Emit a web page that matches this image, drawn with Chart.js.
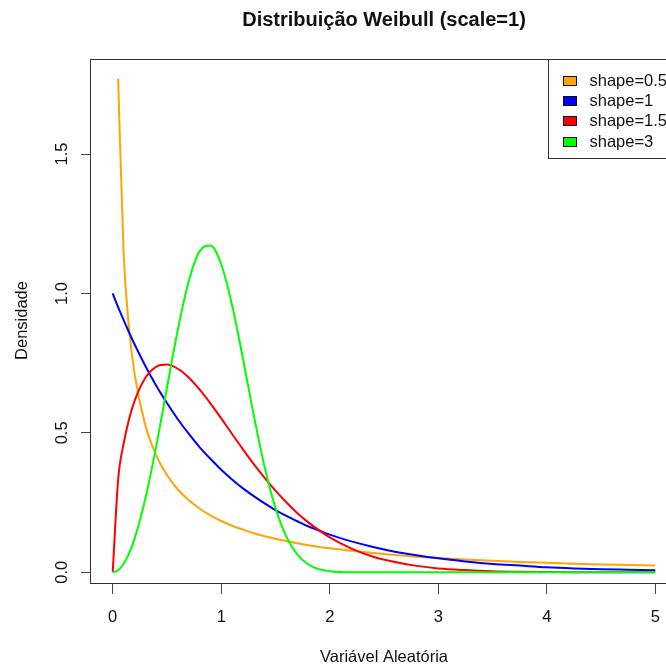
<!DOCTYPE html>
<html>
<head>
<meta charset="utf-8">
<script src="https://cdn.jsdelivr.net/npm/chart.js@4.4.1/dist/chart.umd.min.js"></script>
<style>
html,body{margin:0;padding:0;background:#fff;overflow:hidden;width:666px;height:668px}
#wrap{width:666px;height:668px;overflow:hidden;position:relative}
canvas{display:block}
</style>
</head>
<body>
<div id="wrap"><canvas id="c" width="700" height="668"></canvas></div>
<script>
// ---- text ----
const titleText = 'Distribuição Weibull (scale=1)';
const xAxisTitle = 'Variável Aleatória';
const yAxisTitle = 'Densidade';

// ---- ticks ----
const xTicks = [0, 1, 2, 3, 4, 5];
const yTicks = [0, 0.5, 1.0, 1.5];
const yTickLabels = ['0.0', '0.5', '1.0', '1.5'];

// ---- series ----
const seriesLabels = ['shape=0.5', 'shape=1', 'shape=1.5', 'shape=3'];
const seriesColors = ['#FFA500', '#0000FF', '#FF0000', '#00FF00'];

const xValues = [0, 0.05, 0.1, 0.15, 0.2, 0.3, 0.4, 0.5, 0.6, 0.7, 0.8, 0.9, 1.0, 1.1, 1.2, 1.3, 1.4, 1.5, 1.6, 1.7, 1.8, 1.9, 2.0, 2.2, 2.4, 2.6, 2.8, 3.0, 3.25, 3.5, 3.75, 4.0, 4.25, 4.5, 4.75, 5.0];

const shape05 = [null, 1.77, 1.15, 0.877, 0.715, 0.528, 0.42, 0.349, 0.297, 0.259, 0.229, 0.204, 0.184, 0.167, 0.153, 0.14, 0.129, 0.12, 0.112, 0.104, 0.097, 0.091, 0.086, 0.077, 0.069, 0.062, 0.056, 0.051, 0.046, 0.041, 0.037, 0.034, 0.031, 0.028, 0.026, 0.024];
const shape1 = [1.0, 0.951, 0.905, 0.861, 0.819, 0.741, 0.670, 0.607, 0.549, 0.497, 0.449, 0.407, 0.368, 0.333, 0.301, 0.273, 0.247, 0.223, 0.202, 0.183, 0.165, 0.150, 0.135, 0.111, 0.091, 0.074, 0.061, 0.050, 0.039, 0.030, 0.024, 0.018, 0.014, 0.011, 0.009, 0.007];
const shape15 = [0, 0.332, 0.46, 0.548, 0.613, 0.697, 0.737, 0.745, 0.73, 0.699, 0.656, 0.606, 0.552, 0.496, 0.441, 0.388, 0.339, 0.293, 0.251, 0.213, 0.18, 0.151, 0.125, 0.085, 0.056, 0.037, 0.023, 0.014, 0.008, 0.004, 0.002, 0.001, 0.0005, 0.0002, 0.0001, 0.0];
const shape3 = [0, 0.0075, 0.03, 0.067, 0.119, 0.263, 0.45, 0.662, 0.87, 1.043, 1.151, 1.172, 1.104, 0.959, 0.767, 0.563, 0.378, 0.231, 0.128, 0.064, 0.029, 0.011, 0.004, 0.0003, 0, 0, 0, 0, 0, 0, 0, 0, 0, 0, 0, 0];

const seriesValues = [shape05, shape1, shape15, shape3];

const FONT = "'Liberation Sans', Arial, sans-serif";
Chart.defaults.font.family = FONT;
Chart.defaults.color = '#111';

function toPoints(ys) {
  return xValues.map((x, i) => ({ x: x, y: ys[i] }));
}

const datasets = seriesLabels.map((lab, i) => ({
  label: lab,
  data: toPoints(seriesValues[i]),
  borderColor: seriesColors[i],
  backgroundColor: seriesColors[i],
  borderWidth: 2,
  pointRadius: 0,
  fill: false,
  cubicInterpolationMode: 'monotone',
  order: seriesLabels.length - i
}));

const decorPlugin = {
  id: 'decor',
  afterDraw(chart) {
    const ctx = chart.ctx;
    const a = chart.chartArea;
    const ys = chart.scales.y;
    ctx.save();
    // plot box
    ctx.strokeStyle = '#333';
    ctx.lineWidth = 1;
    ctx.strokeRect(Math.round(a.left) - 0.5, Math.round(a.top) + 0.5, Math.round(a.right - a.left), Math.round(a.bottom - a.top) - 1);

    // title
    const cx = (a.left + a.right) / 2;
    ctx.fillStyle = '#111';
    ctx.font = 'bold 20px ' + FONT;
    ctx.textAlign = 'center';
    ctx.textBaseline = 'alphabetic';
    ctx.fillText(titleText, cx, 26);

    // x axis title
    ctx.font = '16.5px ' + FONT;
    ctx.fillText(xAxisTitle, cx, 662);

    // y axis title
    ctx.save();
    ctx.translate(26.5, (a.top + a.bottom) / 2 - 1);
    ctx.rotate(-Math.PI / 2);
    ctx.fillText(yAxisTitle, 0, 0);
    ctx.restore();

    // y tick labels
    yTicks.forEach((v, i) => {
      const py = ys.getPixelForValue(v);
      ctx.save();
      ctx.translate(67, py);
      ctx.rotate(-Math.PI / 2);
      ctx.textAlign = 'center';
      ctx.fillText(yTickLabels[i], 0, 0);
      ctx.restore();
    });

    // legend
    const lx = 548.5, ly = 59.5, lb = 158.5;
    ctx.fillStyle = '#fff';
    ctx.fillRect(lx, ly, 200, lb - ly);
    ctx.strokeStyle = '#333';
    ctx.strokeRect(lx, ly, 200, lb - ly);
    const rowY = [80, 100.3, 120.6, 141];
    ctx.textAlign = 'left';
    ctx.textBaseline = 'middle';
    seriesLabels.forEach((lab, i) => {
      const y = rowY[i];
      ctx.fillStyle = seriesColors[i];
      ctx.fillRect(563.5, Math.round(y - 4.5) + 0.5, 13, 9);
      ctx.strokeStyle = '#111';
      ctx.strokeRect(563.5, Math.round(y - 4.5) + 0.5, 13, 9);
      ctx.fillStyle = '#111';
      ctx.fillText(lab, 589.5, y + 1.3);
    });
    ctx.restore();
  }
};

new Chart(document.getElementById('c'), {
  type: 'line',
  data: { datasets: datasets },
  options: {
    responsive: false,
    devicePixelRatio: 1,
    animation: false,
    events: [],
    layout: { padding: { left: 0, top: 59, right: 23, bottom: 0 } },
    plugins: {
      legend: { display: false },
      title: { display: false },
      tooltip: { enabled: false }
    },
    scales: {
      x: {
        type: 'linear',
        min: -0.2,
        max: 5.2,
        afterBuildTicks: s => { s.ticks = xTicks.map(v => ({ value: v })); },
        afterFit: s => { s.height = 84; },
        grid: { display: true, drawOnChartArea: false, drawTicks: true, tickLength: 10, color: '#444', lineWidth: 1 },
        border: { display: false },
        ticks: {
          autoSkip: false,
          maxRotation: 0,
          minRotation: 0,
          padding: 14,
          color: '#111',
          font: { size: 16.5 },
          callback: v => String(v)
        }
      },
      y: {
        type: 'linear',
        min: -0.042,
        max: 1.841,
        afterBuildTicks: s => { s.ticks = yTicks.map(v => ({ value: v })); },
        afterFit: s => { s.width = 91; },
        grid: { display: true, drawOnChartArea: false, drawTicks: true, tickLength: 10, color: '#444', lineWidth: 1 },
        border: { display: false },
        ticks: { display: false }
      }
    }
  },
  plugins: [decorPlugin]
});
</script>
</body>
</html>
